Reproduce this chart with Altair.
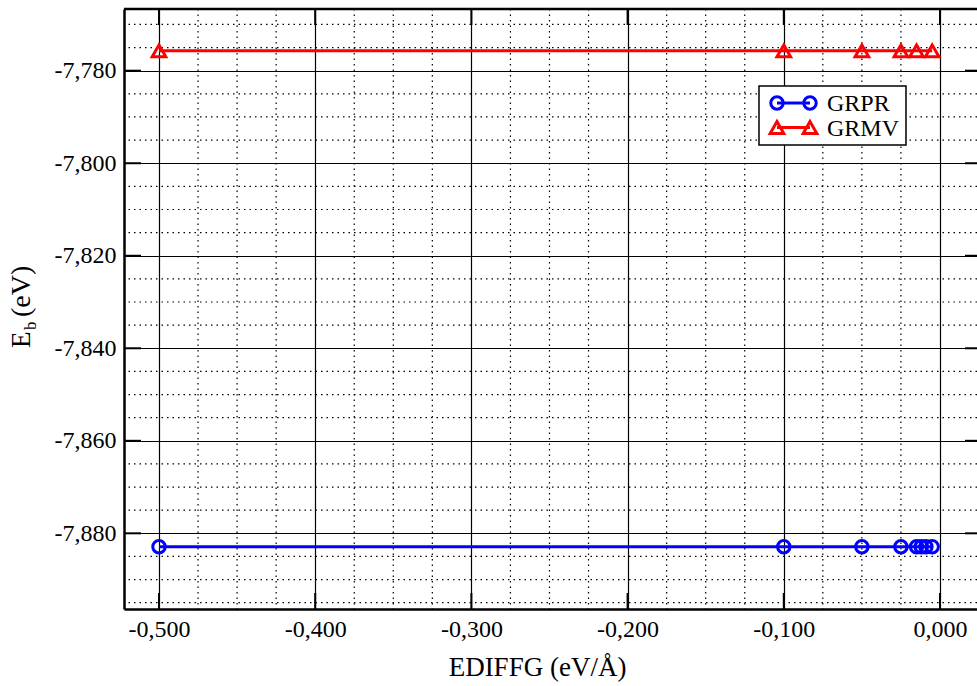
import altair as alt
import pandas as pd

# ---------------- data ----------------
series_names = ["GRPR", "GRMV"]
series_colors = ["#0000FF", "#FF0000"]

ediffg_grpr = [-0.5, -0.1, -0.05, -0.025, -0.015, -0.012, -0.009, -0.005]
eb_grpr = [-7.8829, -7.8829, -7.8829, -7.8829, -7.8829, -7.8829, -7.8829, -7.8829]

ediffg_grmv = [-0.5, -0.1, -0.05, -0.025, -0.015, -0.005]
eb_grmv = [-7.7757, -7.7757, -7.7757, -7.7757, -7.7757, -7.7757]

x_major = [-0.5, -0.4, -0.3, -0.2, -0.1, 0.0]
y_major = [-7.78, -7.80, -7.82, -7.84, -7.86, -7.88]
x_minor = [-0.475, -0.45, -0.425, -0.375, -0.35, -0.325, -0.275, -0.25, -0.225,
           -0.175, -0.15, -0.125, -0.075, -0.05, -0.025]
y_minor = [-7.77, -7.775, -7.785, -7.79, -7.795, -7.805, -7.81, -7.815, -7.825,
           -7.83, -7.835, -7.845, -7.85, -7.855, -7.865, -7.87, -7.875, -7.885,
           -7.89, -7.895]

x_title = "EDIFFG (eV/Å)"
y_title_main, y_title_sub, y_title_unit = "E", "b", "(eV)"

# ---------------- layout ----------------
W, H = 853, 600
FONT = "Liberation Serif"
xscale = alt.Scale(domain=[-0.5224, 0.0237], nice=False, zero=False)
yscale = alt.Scale(domain=[-7.89636, -7.76666], nice=False, zero=False)
label_expr = "replace(replace(format(datum.value, '.3f'), '.', ','), '\u2212', '-')"

df_grpr = pd.DataFrame({"x": ediffg_grpr, "y": eb_grpr})
df_grmv = pd.DataFrame({"x": ediffg_grmv, "y": eb_grmv})
one = pd.DataFrame({"k": [0]})

x_axis = alt.Axis(values=x_major, grid=True, gridColor="black", gridWidth=1.2, gridOpacity=1,
                  domain=True, domainColor="black", domainWidth=2.5, ticks=False, tickSize=0,
                  labelExpr=label_expr, labelFont=FONT, labelFontSize=24, labelColor="black",
                  labelPadding=8, labelFlush=False, labelOverlap=False,
                  title=x_title, titleFont=FONT, titleFontSize=27, titleFontWeight="normal",
                  titleColor="black", titlePadding=13, titleX=413, titleAlign="center")
y_axis = alt.Axis(values=y_major, grid=True, gridColor="black", gridWidth=1.2, gridOpacity=1,
                  domain=True, domainColor="black", domainWidth=2.5, ticks=False, tickSize=0,
                  labelExpr=label_expr, labelFont=FONT, labelFontSize=24, labelColor="black",
                  labelPadding=8, labelFlush=False, labelOverlap=False, title="")

X = lambda: alt.X("x:Q", scale=xscale, axis=x_axis)
Y = lambda: alt.Y("y:Q", scale=yscale, axis=y_axis)

# minor grid (dotted)
minor_x = alt.Chart(pd.DataFrame({"x": x_minor})).mark_rule(
    color="black", strokeWidth=1.2, strokeDash=[1.5, 4]
).encode(x=X())
minor_y = alt.Chart(pd.DataFrame({"y": y_minor})).mark_rule(
    color="black", strokeWidth=1.2, strokeDash=[1.5, 4]
).encode(y=Y())

# inward major ticks
tick_left = alt.Chart(pd.DataFrame({"y": y_major})).mark_rule(color="black", strokeWidth=2).encode(
    y=Y(), x=alt.value(0), x2=alt.value(17))
tick_right = alt.Chart(pd.DataFrame({"y": y_major})).mark_rule(color="black", strokeWidth=2).encode(
    y=Y(), x=alt.value(841), x2=alt.value(W))
tick_bottom = alt.Chart(pd.DataFrame({"x": x_major})).mark_rule(color="black", strokeWidth=2).encode(
    x=X(), y=alt.value(H), y2=alt.value(H - 16))
tick_top = alt.Chart(pd.DataFrame({"x": x_major})).mark_rule(color="black", strokeWidth=2).encode(
    x=X(), y=alt.value(0), y2=alt.value(16))
top_border = alt.Chart(one).mark_rule(color="black", strokeWidth=2.5).encode(
    x=alt.value(0), x2=alt.value(W), y=alt.value(0))

# series
def series(df, color, shape, size):
    line = alt.Chart(df).mark_line(color=color, strokeWidth=3).encode(x=X(), y=Y())
    pts = alt.Chart(df).mark_point(color=color, filled=False, strokeWidth=3, shape=shape,
                                   size=size, opacity=1).encode(x=X(), y=Y())
    return [line, pts]

s1 = series(df_grpr, series_colors[0], "circle", 155)
s2 = series(df_grmv, series_colors[1], "triangle-up", 185)

# legend
leg_box = alt.Chart(one).mark_rect(fill="white", stroke="black", strokeWidth=1.5).encode(
    x=alt.value(635), x2=alt.value(782), y=alt.value(77), y2=alt.value(136))
legend_layers = [leg_box]
for name, color, shape, size, ly in [(series_names[0], series_colors[0], "circle", 155, 94),
                                      (series_names[1], series_colors[1], "triangle-up", 185, 118.5)]:
    legend_layers.append(alt.Chart(one).mark_rule(color=color, strokeWidth=3).encode(
        x=alt.value(653), x2=alt.value(686), y=alt.value(ly)))
    for px in (653, 686):
        legend_layers.append(alt.Chart(one).mark_point(color=color, filled=False, strokeWidth=3,
                                                       shape=shape, size=size, opacity=1).encode(
            x=alt.value(px), y=alt.value(ly)))
    legend_layers.append(alt.Chart(one).mark_text(font=FONT, fontSize=24, color="black",
                                                  align="left", baseline="middle").encode(
        x=alt.value(703), y=alt.value(ly + 1), text=alt.value(name)))

# y-axis title with subscript
yt_main = alt.Chart(one).mark_text(font=FONT, fontSize=27, color="black", angle=270,
                                   align="left", baseline="alphabetic").encode(
    x=alt.value(-94), y=alt.value(339), text=alt.value(y_title_main))
yt_sub = alt.Chart(one).mark_text(font=FONT, fontSize=17, color="black", angle=270,
                                  align="left", baseline="alphabetic").encode(
    x=alt.value(-88), y=alt.value(321), text=alt.value(y_title_sub))
yt_unit = alt.Chart(one).mark_text(font=FONT, fontSize=28, color="black", angle=270,
                                   align="left", baseline="alphabetic").encode(
    x=alt.value(-94), y=alt.value(308), text=alt.value(y_title_unit))

chart = alt.layer(
    minor_x, minor_y, *s1, *s2, tick_left, tick_right, tick_bottom, tick_top, top_border,
    *legend_layers, yt_main, yt_sub, yt_unit
).properties(
    width=W, height=H,
    autosize=alt.AutoSizeParams(type="none"),
    padding={"left": 124, "top": 9, "right": 0, "bottom": 77},
    background="white",
).configure_view(stroke=None)

chart.save("out.html", embed_options={"renderer": "svg", "actions": False})
